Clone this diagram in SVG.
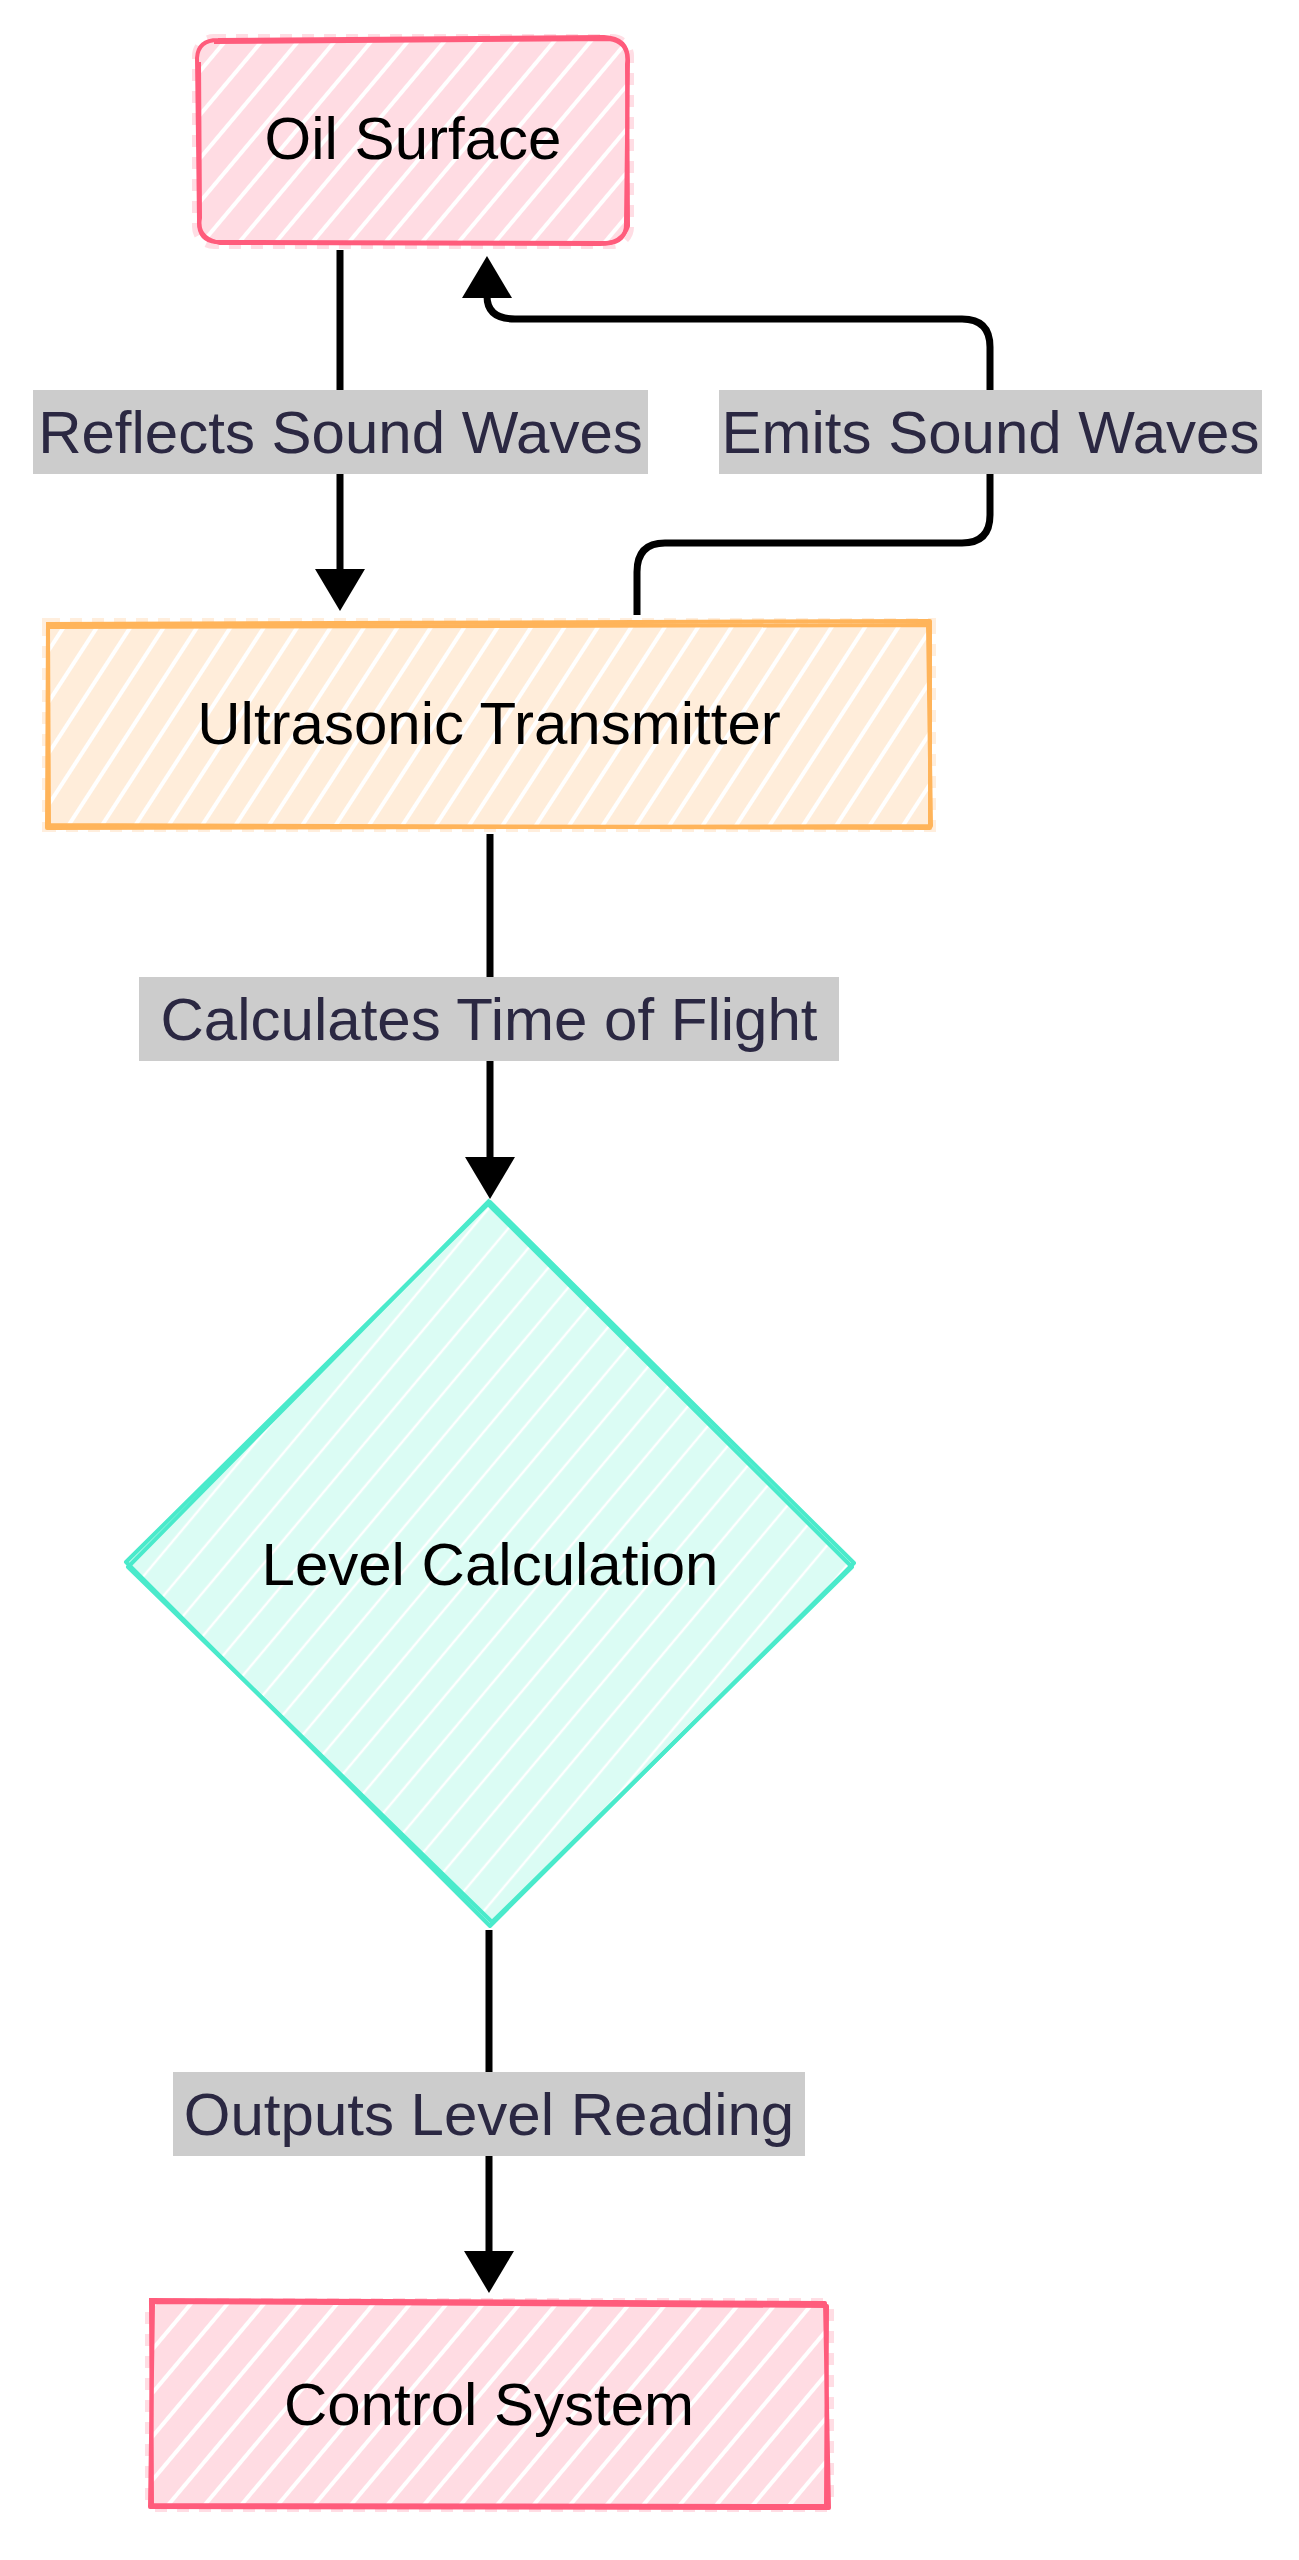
<svg xmlns="http://www.w3.org/2000/svg" width="1299" height="2560" viewBox="0 0 1299 2560">
  <style>
    .nodeText { font-family: "Liberation Sans", Arial, sans-serif; font-size: 60px; fill: #000000; text-anchor: middle; }
    .edgeText { font-family: "Liberation Sans", Arial, sans-serif; font-size: 60px; fill: #2b2842; text-anchor: middle; }
    .labelBg { fill: #cccccc; }
    .conn { fill: none; stroke: #000000; stroke-width: 7; }
    .pinkStroke { fill: none; stroke: #ff5c7c; stroke-width: 4; stroke-linejoin: round; }
    .orangeStroke { fill: none; stroke: #ffb45a; stroke-width: 4; stroke-linejoin: round; }
    .tealStroke { fill: none; stroke: #4aeacb; stroke-width: 4; stroke-linejoin: round; }
    .pinkHalo { fill: none; stroke: #ffdde4; stroke-width: 12; stroke-dasharray: 12 10; }
    .orangeHalo { fill: none; stroke: #ffeedd; stroke-width: 12; stroke-dasharray: 12 10; }
  </style>
  <defs>
    <pattern id="hatchPink" patternUnits="userSpaceOnUse" width="28" height="28" patternTransform="rotate(40)">
      <rect width="28" height="28" fill="#ffdce3"/>
      <line x1="3" y1="0" x2="3" y2="28" stroke="#ffffff" stroke-width="4"/>
    </pattern>
    <pattern id="hatchOrange" patternUnits="userSpaceOnUse" width="28" height="28" patternTransform="rotate(33)">
      <rect width="28" height="28" fill="#ffedda"/>
      <line x1="3" y1="0" x2="3" y2="28" stroke="#ffffff" stroke-width="4"/>
    </pattern>
    <pattern id="hatchTeal" patternUnits="userSpaceOnUse" width="28" height="28" patternTransform="rotate(40)">
      <rect width="28" height="28" fill="#dbfcf4"/>
      <line x1="3" y1="0" x2="3" y2="28" stroke="#ffffff" stroke-width="2.5"/>
    </pattern>
    <marker id="arrow" markerUnits="userSpaceOnUse" markerWidth="44" markerHeight="52" viewBox="0 0 44 52" refX="2" refY="26" orient="auto">
      <path d="M0,1 L42,26 L0,51 Z" fill="#000000"/>
    </marker>
  </defs>

  <rect width="1299" height="2560" fill="#ffffff"/>

  <g id="connectors">
    <path id="edge-reflects" class="conn" d="M340,250 L340,571" marker-end="url(#arrow)"/>
    <path id="edge-emits" class="conn" d="M637,615 L637,572 Q637,543 665,543 L962,543 Q990,543 990,515 L990,347 Q990,319 962,319 L515,319 Q487,319 487,296" marker-end="url(#arrow)"/>
    <path id="edge-calculates" class="conn" d="M490,834 L490,1159" marker-end="url(#arrow)"/>
    <path id="edge-outputs" class="conn" d="M489,1930 L489,2253" marker-end="url(#arrow)"/>
  </g>

  <g id="node-oil-surface">
    <rect x="198" y="40" width="430" height="203" rx="16" class="pinkHalo"/>
    <rect x="198" y="40" width="430" height="203" rx="16" fill="url(#hatchPink)"/>
    <path class="pinkStroke" d="M218,40 L604,37 Q628,38 628,60 L626,222 Q627,243 606,243 L216,242 Q198,240 199,220 L197,58 Q198,40 218,40"/>
    <path class="pinkStroke" d="M214,42 L609,39 Q630,42 627,64 L628,226 Q622,244 600,244 L220,243 Q196,238 200,218 L199,62" stroke-width="2.5"/>
    <text class="nodeText" x="413" y="159">Oil Surface</text>
  </g>

  <g id="node-ultrasonic-transmitter">
    <rect x="48" y="624" width="882" height="202" class="orangeHalo"/>
    <rect x="48" y="624" width="882" height="202" fill="url(#hatchOrange)"/>
    <path class="orangeStroke" d="M48,624 L930,621 L930,828 L49,825 Z"/>
    <path class="orangeStroke" d="M50,627 L928,625 L931,826 L47,828 L48,622" stroke-width="2.5"/>
    <text class="nodeText" x="489" y="744">Ultrasonic Transmitter</text>
  </g>

  <g id="node-level-calculation">
    <polygon points="490,1202 854,1564 490,1926 126,1564" fill="url(#hatchTeal)"/>
    <path class="tealStroke" d="M490,1202 L854,1563 L490,1926 L126,1562 Z"/>
    <path class="tealStroke" d="M488,1204 L852,1567 L492,1922 L128,1567 L490,1200" stroke-width="2.5"/>
    <text class="nodeText" x="490" y="1585">Level Calculation</text>
  </g>

  <g id="node-control-system">
    <rect x="151" y="2304" width="677" height="202" class="pinkHalo"/>
    <rect x="151" y="2304" width="677" height="202" fill="url(#hatchPink)"/>
    <path class="pinkStroke" d="M151,2302 L827,2306 L826,2506 L152,2505 Z"/>
    <path class="pinkStroke" d="M149,2300 L825,2303 L829,2508 L150,2507 L153,2304" stroke-width="2.5"/>
    <text class="nodeText" x="489" y="2425">Control System</text>
  </g>

  <g id="edge-labels">
    <g id="label-reflects">
      <rect class="labelBg" x="33" y="390" width="615" height="84"/>
      <text class="edgeText" x="340.5" y="453">Reflects Sound Waves</text>
    </g>
    <g id="label-emits">
      <rect class="labelBg" x="719" y="390" width="543" height="84"/>
      <text class="edgeText" x="990.5" y="453">Emits Sound Waves</text>
    </g>
    <g id="label-calculates">
      <rect class="labelBg" x="139" y="977" width="700" height="84"/>
      <text class="edgeText" x="489" y="1040">Calculates Time of Flight</text>
    </g>
    <g id="label-outputs">
      <rect class="labelBg" x="173" y="2072" width="632" height="84"/>
      <text class="edgeText" x="489" y="2135">Outputs Level Reading</text>
    </g>
  </g>
</svg>
